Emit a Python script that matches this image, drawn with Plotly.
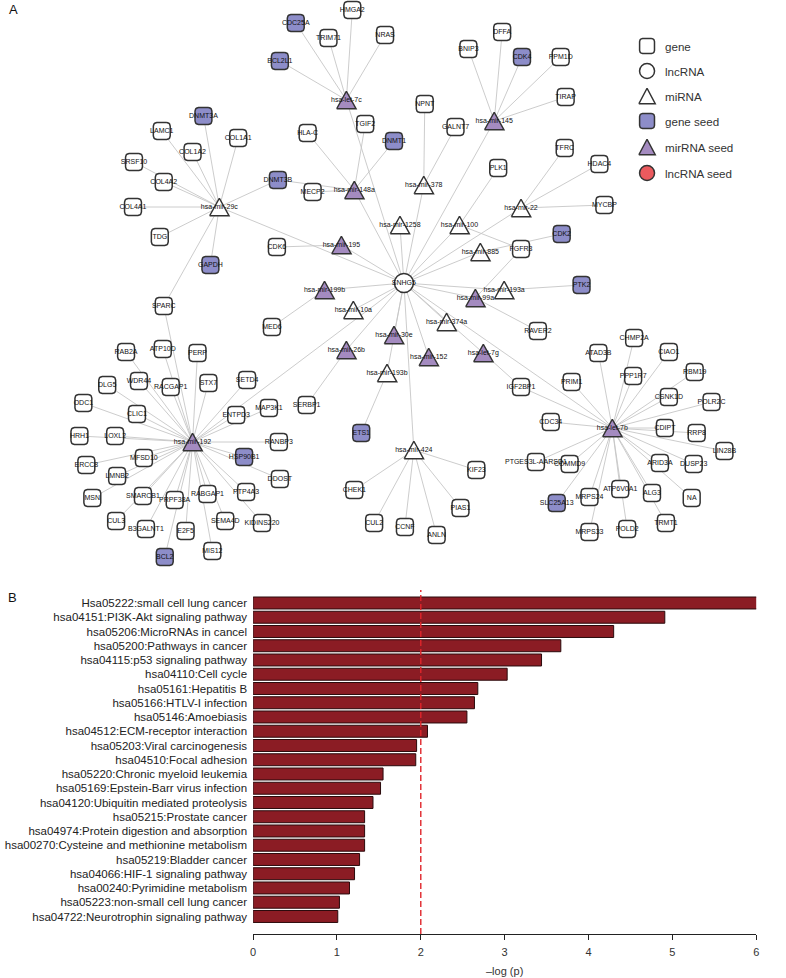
import math
import plotly.graph_objects as go

# ================= Panel A : network data =================
LNCRNA = ["SNHG5"]
MIRNA_SEED = ["hsa-let-7c", "hsa-mir-145", "hsa-mir-148a", "hsa-mir-195", "hsa-mir-199b",
              "hsa-mir-99a", "hsa-mir-30e", "hsa-mir-26b", "hsa-let-7g", "hsa-mir-152",
              "hsa-mir-192", "hsa-let-7b"]
MIRNA = ["hsa-mir-378", "hsa-mir-29c", "hsa-mir-22", "hsa-mir-1258", "hsa-mir-100",
         "hsa-mir-885", "hsa-mir-193a", "hsa-mir-10a", "hsa-mir-374a", "hsa-mir-193b",
         "hsa-mir-424"]
GENE_SEED = ["DNMT3A", "DNMT3B", "GAPDH", "CDC25A", "BCL2L1", "DNMT1", "CDK4", "CDK2",
             "PTK2", "ETS1", "HSP90B1", "BCL2", "SLC25A13"]

TARGETS = {
    "hsa-let-7c": ["CDC25A", "HMGA2", "TRIM71", "NRAS", "BCL2L1"],
    "hsa-mir-145": ["BNIP3", "DFFA", "CDK4", "PPM1D", "TIRAP"],
    "hsa-mir-148a": ["HLA-C", "TGIF2", "DNMT1", "DNMT3B", "MECP2"],
    "hsa-mir-378": ["NPNT", "GALNT7"],
    "hsa-mir-29c": ["DNMT3A", "LAMC1", "COL1A1", "COL1A2", "SRSF10", "COL4A2", "COL4A1",
                    "TDG", "GAPDH", "SPARC", "DNMT3B"],
    "hsa-mir-22": ["TFRC", "HDAC4", "MYCBP"],
    "hsa-mir-1258": [],
    "hsa-mir-100": ["PLK1", "FGFR3"],
    "hsa-mir-195": ["CDK6"],
    "hsa-mir-885": ["CDK2"],
    "hsa-mir-199b": ["MED6"],
    "hsa-mir-193a": ["PTK2"],
    "hsa-mir-99a": ["FGFR3", "RAVER2"],
    "hsa-mir-10a": [],
    "hsa-mir-374a": [],
    "hsa-mir-30e": [],
    "hsa-mir-26b": ["SERBP1"],
    "hsa-let-7g": ["IGF2BP1"],
    "hsa-mir-152": [],
    "hsa-mir-193b": ["ETS1"],
    "hsa-mir-192": ["RAB2A", "ATP10D", "PERP", "DLG5", "WDR44", "RACGAP1", "STX7", "SETD4",
                    "ODC1", "CLIC1", "ENTPD3", "MAP3K1", "HRH1", "LOXL2", "RANBP3", "HSP90B1",
                    "MFSD10", "ERCC8", "LMNB2", "DDOST", "MSN", "SMARCB1", "PRPF38A",
                    "RABGAP1", "PTP4A3", "CUL3", "B3GALNT1", "E2F5", "SEMA4D", "KIDINS220",
                    "MIS12", "BCL2", "SPARC"],
    "hsa-mir-424": ["CHEK1", "CUL2", "CCNF", "ANLN", "PIAS1", "KIF23"],
    "hsa-let-7b": ["CHMP2A", "ATAD3B", "CIAO1", "RBM19", "PPP1R7", "PRIM1", "IGF2BP1",
                   "CSNK1D", "POLR2C", "CDC34", "CDIPT", "RRP8", "LIN28B", "PTGES3L-AARSD1",
                   "COMMD9", "ARID3A", "DUSP23", "ATP6V0A1", "ALG3", "NA", "SLC25A13",
                   "MRPS24", "TRMT1", "MRPS33", "POLD2"],
}

LEGEND_LABELS = ["gene", "lncRNA", "miRNA", "gene seed", "mirRNA seed", "lncRNA seed"]

# ================= Panel B : enrichment data =================
PATHWAYS = [
    "Hsa05222:small cell lung cancer",
    "hsa04151:PI3K-Akt signaling pathway",
    "hsa05206:MicroRNAs in cancel",
    "hsa05200:Pathways in cancer",
    "hsa04115:p53 signaling pathway",
    "hsa04110:Cell cycle",
    "hsa05161:Hepatitis B",
    "hsa05166:HTLV-I infection",
    "hsa05146:Amoebiasis",
    "hsa04512:ECM-receptor interaction",
    "hsa05203:Viral carcinogenesis",
    "hsa04510:Focal adhesion",
    "hsa05220:Chronic myeloid leukemia",
    "hsa05169:Epstein-Barr virus infection",
    "hsa04120:Ubiquitin mediated proteolysis",
    "hsa05215:Prostate cancer",
    "hsa04974:Protein digestion and absorption",
    "hsa00270:Cysteine and methionine metabolism",
    "hsa05219:Bladder cancer",
    "hsa04066:HIF-1 signaling pathway",
    "hsa00240:Pyrimidine metabolism",
    "hsa05223:non-small cell lung cancer",
    "hsa04722:Neurotrophin signaling pathway",
]
NEG_LOG_P = [6.02, 4.91, 4.30, 3.67, 3.44, 3.03, 2.68, 2.64, 2.55, 2.08, 1.95, 1.94,
             1.55, 1.52, 1.43, 1.33, 1.33, 1.33, 1.27, 1.21, 1.15, 1.03, 1.01]
THRESHOLD = 2
X_TICKS = [0, 1, 2, 3, 4, 5, 6]

# ================= network layout (node placement, pixel-like units) =================
LAYOUT_POS = {
    "SNHG5": (404, 283),
    "hsa-let-7c": (346, 100), "hsa-mir-145": (495, 121), "hsa-mir-148a": (354, 190),
    "hsa-mir-378": (424, 185), "hsa-mir-29c": (218, 207), "hsa-mir-22": (522, 208),
    "hsa-mir-1258": (400, 225), "hsa-mir-100": (460, 225), "hsa-mir-195": (341, 245),
    "hsa-mir-885": (481, 252), "hsa-mir-199b": (324, 290), "hsa-mir-193a": (505, 290),
    "hsa-mir-99a": (476, 298), "hsa-mir-10a": (353, 310), "hsa-mir-374a": (447, 322),
    "hsa-mir-30e": (394, 335), "hsa-mir-26b": (346, 350), "hsa-let-7g": (484, 353),
    "hsa-mir-152": (429, 357), "hsa-mir-193b": (387, 373), "hsa-mir-192": (191, 442),
    "hsa-mir-424": (414, 450), "hsa-let-7b": (614, 428),
    "DNMT3A": (202, 116), "LAMC1": (160, 131), "COL1A1": (237, 138), "COL1A2": (191, 152),
    "SRSF10": (132, 162), "COL4A2": (162, 182), "COL4A1": (131, 207), "TDG": (158, 237),
    "GAPDH": (209, 265), "SPARC": (162, 306), "DNMT3B": (277, 180),
    "CDC25A": (295, 23), "HMGA2": (352, 10), "TRIM71": (328, 38), "NRAS": (385, 35),
    "BCL2L1": (279, 61),
    "HLA-C": (307, 133), "TGIF2": (365, 124), "DNMT1": (394, 141), "MECP2": (312, 192),
    "NPNT": (425, 104), "GALNT7": (456, 127),
    "BNIP3": (469, 49), "DFFA": (503, 32), "CDK4": (523, 57), "PPM1D": (562, 57),
    "TIRAP": (567, 97),
    "PLK1": (499, 168), "FGFR3": (522, 249), "TFRC": (566, 148), "HDAC4": (601, 164),
    "MYCBP": (606, 205), "CDK2": (563, 234), "PTK2": (583, 285), "RAVER2": (539, 331),
    "CDK6": (276, 247), "MED6": (271, 327), "SERBP1": (306, 405), "ETS1": (361, 433),
    "CHEK1": (354, 490), "CUL2": (374, 523), "CCNF": (405, 527), "ANLN": (437, 535),
    "PIAS1": (461, 508), "KIF23": (477, 470),
    "RAB2A": (124, 352), "ATP10D": (161, 349), "PERP": (196, 353), "DLG5": (105, 385),
    "WDR44": (137, 381), "RACGAP1": (169, 387), "STX7": (207, 383), "SETD4": (246, 380),
    "ODC1": (81, 403), "CLIC1": (135, 414), "ENTPD3": (235, 415), "MAP3K1": (268, 408),
    "HRH1": (77, 436), "LOXL2": (113, 436), "RANBP3": (278, 442), "HSP90B1": (243, 457),
    "MFSD10": (142, 458), "ERCC8": (84, 465), "LMNB2": (115, 476), "DDOST": (279, 479),
    "MSN": (90, 498), "SMARCB1": (141, 496), "PRPF38A": (173, 500), "RABGAP1": (206, 494),
    "PTP4A3": (245, 492), "CUL3": (114, 521), "B3GALNT1": (144, 529), "E2F5": (184, 531),
    "SEMA4D": (224, 521), "KIDINS220": (261, 523), "MIS12": (211, 551), "BCL2": (163, 557),
    "CHMP2A": (636, 338), "ATAD3B": (600, 353), "CIAO1": (671, 352), "RBM19": (697, 372),
    "PPP1R7": (635, 376), "PRIM1": (573, 382), "IGF2BP1": (522, 387), "CSNK1D": (671, 397),
    "POLR2C": (714, 402), "CDC34": (552, 422), "CDIPT": (667, 428), "RRP8": (699, 433),
    "LIN28B": (727, 451), "PTGES3L-AARSD1": (537, 462), "COMMD9": (571, 464),
    "ARID3A": (662, 463), "DUSP23": (696, 464), "ATP6V0A1": (622, 489), "ALG3": (654, 493),
    "NA": (694, 498), "SLC25A13": (558, 503), "MRPS24": (591, 497), "TRMT1": (668, 523),
    "MRPS33": (591, 532), "POLD2": (629, 529),
}
LEGEND_POS_X, LEGEND_TEXT_X = 649, 665
LEGEND_POS_Y = [46, 71, 96, 121, 147, 173]

FONT = "Liberation Sans, Arial, Helvetica, sans-serif"
EDGE_COLOR = "#c6c6c6"
BORDER = "#333333"
GENE_SEED_FILL = "#8d8dc9"
MIR_SEED_FILL = "#a48bc0"
LNC_SEED_FILL = "#eb5a5e"


def rrect(cx, cy, w=17.0, r=3.5, n=5):
    xs, ys = [], []
    h = w
    corners = [(cx + w / 2 - r, cy - h / 2 + r, -90, 0), (cx + w / 2 - r, cy + h / 2 - r, 0, 90),
               (cx - w / 2 + r, cy + h / 2 - r, 90, 180), (cx - w / 2 + r, cy - h / 2 + r, 180, 270)]
    for ox, oy, a0, a1 in corners:
        for k in range(n + 1):
            a = math.radians(a0 + (a1 - a0) * k / n)
            xs.append(ox + r * math.cos(a))
            ys.append(oy + r * math.sin(a))
    xs.append(xs[0]); ys.append(ys[0])
    return xs, ys


def tri(cx, cy, w=19.5, h=17.5):
    return [cx - w / 2, cx + w / 2, cx, cx - w / 2], [cy + h / 2, cy + h / 2, cy - h / 2, cy + h / 2]


def polys(names, fn, **kw):
    X, Y = [], []
    for nm in names:
        x, y = LAYOUT_POS[nm]
        px, py = fn(x, y, **kw)
        X += px + [None]; Y += py + [None]
    return X, Y


fig = go.Figure()

# ---------- edges ----------
mirnas = MIRNA_SEED + MIRNA
ex, ey = [], []
for m in mirnas:
    for a, b in [(LNCRNA[0], m)] + [(m, g) for g in TARGETS[m]]:
        (x0, y0), (x1, y1) = LAYOUT_POS[a], LAYOUT_POS[b]
        ex += [x0, x1, None]; ey += [y0, y1, None]
fig.add_trace(go.Scatter(x=ex, y=ey, mode="lines", line=dict(color=EDGE_COLOR, width=0.9),
                         hoverinfo="skip", showlegend=False, xaxis="x", yaxis="y"))

# ---------- gene nodes ----------
genes = []
for m in mirnas:
    for g in TARGETS[m]:
        if g not in genes:
            genes.append(g)
plain_genes = [g for g in genes if g not in GENE_SEED]
seed_genes = [g for g in genes if g in GENE_SEED]

for names, fill in [(plain_genes, "white"), (seed_genes, GENE_SEED_FILL)]:
    X, Y = polys(names, rrect)
    fig.add_trace(go.Scatter(x=X, y=Y, mode="lines", fill="toself", fillcolor=fill,
                             line=dict(color=BORDER, width=1.5), hoverinfo="skip",
                             showlegend=False))

# ---------- miRNA nodes ----------
for names, fill in [(MIRNA, "white"), (MIRNA_SEED, MIR_SEED_FILL)]:
    X, Y = polys(names, tri)
    fig.add_trace(go.Scatter(x=X, y=Y, mode="lines", fill="toself", fillcolor=fill,
                             line=dict(color=BORDER, width=1.5), hoverinfo="skip",
                             showlegend=False))

# ---------- lncRNA ----------
fig.add_trace(go.Scatter(x=[LAYOUT_POS[n][0] for n in LNCRNA], y=[LAYOUT_POS[n][1] for n in LNCRNA],
                         mode="markers", marker=dict(symbol="circle", size=19, color="white",
                                                     line=dict(color=BORDER, width=1.5)),
                         hoverinfo="skip", showlegend=False))

# ---------- node labels ----------
all_nodes = LNCRNA + mirnas + genes
fig.add_trace(go.Scatter(x=[LAYOUT_POS[n][0] for n in all_nodes],
                         y=[LAYOUT_POS[n][1] for n in all_nodes],
                         mode="text", text=all_nodes, textposition="middle center",
                         textfont=dict(family=FONT, size=7, color="#111"),
                         hoverinfo="skip", showlegend=False))

# ---------- legend ----------
lx = LEGEND_POS_X
ly = LEGEND_POS_Y
for (y, fill) in [(ly[0], "white"), (ly[3], GENE_SEED_FILL)]:
    X, Y = rrect(lx, y, w=15, r=3)
    fig.add_trace(go.Scatter(x=X, y=Y, mode="lines", fill="toself", fillcolor=fill,
                             line=dict(color=BORDER, width=1.5), hoverinfo="skip", showlegend=False))
for (y, fill) in [(ly[2], "white"), (ly[4], MIR_SEED_FILL)]:
    X, Y = tri(lx, y, w=16.5, h=15.5)
    fig.add_trace(go.Scatter(x=X, y=Y, mode="lines", fill="toself", fillcolor=fill,
                             line=dict(color=BORDER, width=1.5), hoverinfo="skip", showlegend=False))
fig.add_trace(go.Scatter(x=[lx, lx], y=[ly[1], ly[5]], mode="markers",
                         marker=dict(symbol="circle", size=15, color=["white", LNC_SEED_FILL],
                                     line=dict(color=BORDER, width=1.5)),
                         hoverinfo="skip", showlegend=False))
for lab, y in zip(LEGEND_LABELS, ly):
    fig.add_annotation(x=LEGEND_TEXT_X, y=y, xref="x", yref="y", text=lab, showarrow=False,
                       xanchor="left", yanchor="middle",
                       font=dict(family=FONT, size=11.6, color="#333"))

# ================= Panel B =================
fig.add_trace(go.Bar(x=NEG_LOG_P, y=PATHWAYS, orientation="h", width=0.84,
                     marker=dict(color="#8b1c24", line=dict(color="#2a0a0c", width=1)),
                     hoverinfo="skip", showlegend=False, xaxis="x2", yaxis="y2"))
fig.add_shape(type="line", x0=THRESHOLD, x1=THRESHOLD, y0=0, y1=1, xref="x2", yref="y2 domain",
              line=dict(color="#e0262b", width=1.4, dash="6px,3px"), layer="above")

W, H = 786, 978
fig.update_layout(
    width=W, height=H, margin=dict(l=0, r=0, t=0, b=0),
    paper_bgcolor="white", plot_bgcolor="white",
    font=dict(family=FONT),
    showlegend=False, hovermode=False,
    xaxis=dict(domain=[0, 1], range=[0, W], visible=False, fixedrange=True),
    yaxis=dict(domain=[(H - 580) / H, 1], range=[580, 0], visible=False, fixedrange=True),
    xaxis2=dict(domain=[252 / W, 759 / W], range=[0, 6], anchor="y2",
                tickmode="array", tickvals=X_TICKS, showline=True, linecolor="#222", linewidth=1,
                ticks="outside", ticklen=5, tickwidth=1, tickcolor="#222",
                showgrid=False, zeroline=False, ticklabelstandoff=3, fixedrange=True,
                tickfont=dict(family=FONT, size=11, color="#333")),
    yaxis2=dict(domain=[(H - 934) / H, (H - 590) / H], anchor="x2", type="category",
                categoryorder="array", categoryarray=PATHWAYS, range=[23.23, -0.912],
                tickmode="array", tickvals=PATHWAYS, ticktext=PATHWAYS,
                showline=False, ticks="", showgrid=False, zeroline=False,
                ticklabelstandoff=5, fixedrange=True,
                tickfont=dict(family=FONT, size=11.5, color="#222")),
)

fig.add_annotation(x=(252 + 759) / 2 / W, y=(H - 971) / H, xref="paper", yref="paper",
                   text="–log (p)", showarrow=False, xanchor="center", yanchor="middle",
                   font=dict(family=FONT, size=11, color="#333"))
fig.add_annotation(x=4 / W, y=1 - 10 / H, xref="paper", yref="paper", text="A", showarrow=False,
                   xanchor="left", yanchor="middle", font=dict(family=FONT, size=13, color="#111"))
fig.add_annotation(x=3 / W, y=1 - 597 / H, xref="paper", yref="paper", text="B", showarrow=False,
                   xanchor="left", yanchor="middle", font=dict(family=FONT, size=13, color="#111"))

fig.write_html("out.html", config={"displayModeBar": False},
               post_script="document.body.style.margin='0';document.body.style.overflow='hidden';")
